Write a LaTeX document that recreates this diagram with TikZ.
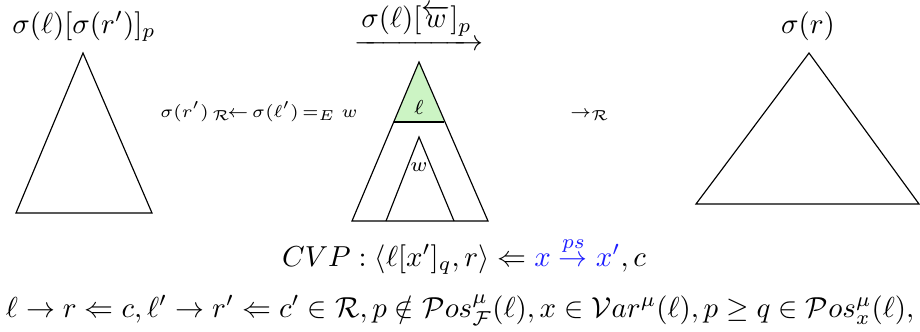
\documentclass[tikz,border=0pt]{standalone}
\usepackage{amsmath,amssymb}
\usepackage{xcolor}
\usepackage{tikz}
\usetikzlibrary{positioning}
\definecolor{lhsgreen}{RGB}{204,244,196}
\definecolor{varblue}{RGB}{30,30,255}
\tikzset{
  termtri/.style={
    draw=black,
    line width=0.4pt
  },
  termlabel/.style={
    anchor=base,
    inner sep=0pt
  },
  steplabel/.style={
    anchor=base,
    inner sep=0pt,
    font=\fontsize{6.4}{7.5}\selectfont
  },
  smalllabel/.style={
    anchor=center,
    inner sep=0pt,
    font=\scriptsize
  }
}

\begin{document}
\begin{tikzpicture}[x=0.346pt,y=-0.346pt]
\useasboundingbox (0,0) rectangle (920,331);

% left term
\coordinate (ltop) at (83,53);
\coordinate (lleft) at (16,213);
\coordinate (lright) at (152,213);
\draw[termtri] (ltop) -- (lleft) -- (lright) -- cycle;
\node[termlabel] (ltitle) at (84,33) {$\sigma(\ell)[\sigma(r')]_p$};

% middle term
\coordinate (mtop) at (419,62);
\coordinate (mleft) at (352,221);
\coordinate (mright) at (488,221);
\coordinate (gleft) at (393.7,122);
\coordinate (gright) at (444.3,122);
\coordinate (wtop) at (419,137);
\coordinate (wleft) at (386,221);
\coordinate (wright) at (454,221);
\fill[lhsgreen] (mtop) -- (gleft) -- (gright) -- cycle;
\draw[termtri] (mtop) -- (mleft) -- (mright) -- cycle;
\draw[termtri] (gleft) -- (gright);
\draw[termtri] (wleft) -- (wtop) -- (wright);
\node[smalllabel] (lhs) at (419,107) {$\ell$};
\node[smalllabel] (win) at (419,167) {$w$};
\node[termlabel] (mtitle) at (419,50) {$\xrightarrow{\textstyle\sigma(\ell)[\overleftarrow{w}]_p}$};

% right term
\coordinate (rtop) at (809,53);
\coordinate (rleft) at (696,204);
\coordinate (rright) at (919,204);
\draw[termtri] (rtop) -- (rleft) -- (rright) -- cycle;
\node[termlabel] (rtitle) at (808,33) {$\sigma(r)$};

% steps between the terms
\node[steplabel] (eqstep) at (259,117) {$\sigma(r')\,{}_{\mathcal{R}}\!{\leftarrow}\,\sigma(\ell')\,{=_E}\;w$};
\node[steplabel] (rstep) at (590,117) {$\to_{\mathcal{R}}$};

% critical pair and conditions
\node[termlabel] (cvp) at (464,266) {$CVP : \langle \ell[x']_q , r\rangle \Leftarrow {\color{varblue} x \stackrel{ps}{\to} x'}, c$};
\node[termlabel] (cond) at (460,317) {$\ell \to r \Leftarrow c, \ell' \to r' \Leftarrow c' \in \mathcal{R}, p \notin \mathcal{P}os^{\mu}_{\mathcal{F}}(\ell), x \in \mathcal{V}ar^{\mu}(\ell), p \geq q \in \mathcal{P}os^{\mu}_{x}(\ell),$};
\end{tikzpicture}
\end{document}
